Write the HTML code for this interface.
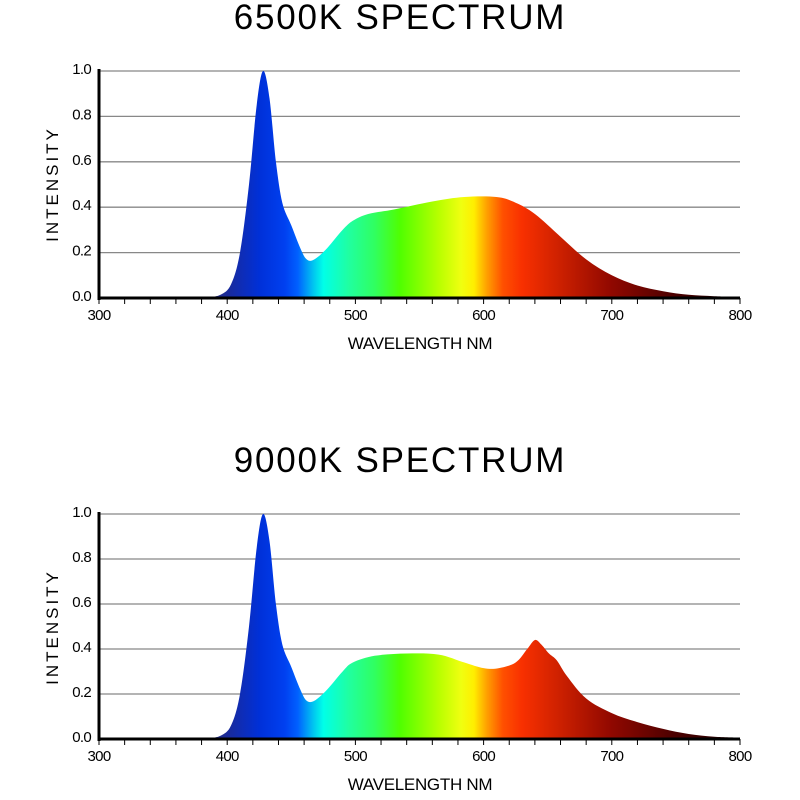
<!DOCTYPE html>
<html><head><meta charset="utf-8"><style>
html,body{margin:0;padding:0;background:#fff;}
svg{display:block;font-family:"Liberation Sans",sans-serif;}
</style></head><body>
<svg id="s" width="800" height="800" viewBox="0 0 800 800" xmlns="http://www.w3.org/2000/svg">
<defs>
<linearGradient id="spec" gradientUnits="userSpaceOnUse" x1="99" y1="0" x2="740" y2="0">
<stop offset="0.15" stop-color="#3a3a70"/>
<stop offset="0.2" stop-color="#1a2a9a"/>
<stop offset="0.25" stop-color="#0030d8"/>
<stop offset="0.29" stop-color="#0040f0"/>
<stop offset="0.31" stop-color="#0060ff"/>
<stop offset="0.335" stop-color="#00c8f0"/>
<stop offset="0.35" stop-color="#00ffe8"/>
<stop offset="0.39" stop-color="#20ffa0"/>
<stop offset="0.43" stop-color="#30ff60"/>
<stop offset="0.47" stop-color="#50ff00"/>
<stop offset="0.53" stop-color="#b8ff00"/>
<stop offset="0.565" stop-color="#f0ff10"/>
<stop offset="0.585" stop-color="#ffee00"/>
<stop offset="0.605" stop-color="#ffa000"/>
<stop offset="0.63" stop-color="#ff5000"/>
<stop offset="0.66" stop-color="#f83000"/>
<stop offset="0.72" stop-color="#cc2000"/>
<stop offset="0.8" stop-color="#900800"/>
<stop offset="0.9" stop-color="#4a0000"/>
<stop offset="1" stop-color="#200000"/>
</linearGradient>
</defs>
<g id="g1"></g>
<g id="g2"></g>
</svg>
<script>
const NS="http://www.w3.org/2000/svg";
function X(w){return 99+(w-300)*641/500;}
function el(p,tag,a,t){const e=document.createElementNS(NS,tag);for(const k in a)e.setAttribute(k,a[k]);if(t!=null)e.textContent=t;p.appendChild(e);return e;}
function smooth(pts){let d="";for(let i=0;i<pts.length-1;i++){const p0=pts[Math.max(0,i-1)],p1=pts[i],p2=pts[i+1],p3=pts[Math.min(pts.length-1,i+2)];
const c1=[p1[0]+(p2[0]-p0[0])/6,p1[1]+(p2[1]-p0[1])/6],c2=[p2[0]-(p3[0]-p1[0])/6,p2[1]-(p3[1]-p1[1])/6];
if(i==0)d+="M"+p1[0]+","+p1[1];d+=" C"+c1[0].toFixed(1)+","+c1[1].toFixed(1)+" "+c2[0].toFixed(1)+","+c2[1].toFixed(1)+" "+p2[0].toFixed(1)+","+p2[1].toFixed(1);}return d;}
const blue=[[370,0],[385,0.004],[395,0.015],[403,0.06],[410,0.2],[417,0.5],[423,0.85],[428,1.0],[433,0.88],[438,0.6],[443,0.42],[450,0.32],[457,0.22],[462,0.17],[468,0.17]];
const c1=blue.concat([[478,0.22],[490,0.3],[498,0.34],[510,0.37],[530,0.39],[560,0.425],[585,0.445],[610,0.445],[625,0.42],[640,0.37],[660,0.27],[680,0.17],[700,0.1],[720,0.055],[740,0.03],[760,0.014],[780,0.008],[800,0.006]]);
const c2=blue.concat([[478,0.22],[490,0.3],[498,0.34],[515,0.37],[540,0.38],[565,0.375],[585,0.34],[600,0.315],[612,0.315],[625,0.34],[634,0.4],[640,0.44],[645,0.42],[651,0.38],[657,0.35],[665,0.28],[680,0.18],[700,0.115],[720,0.075],[740,0.045],[760,0.022],[780,0.01],[800,0.006]]);
function chart(g,top,bot,title,data){
 const H=bot-top;const Y=v=>bot-v*H;
 el(g,"text",{x:400,y:top-42,"text-anchor":"middle","font-size":35,"letter-spacing":"1.8"},title);
 for(let v=0.2;v<1.01;v+=0.2)el(g,"line",{x1:99,x2:740,y1:Y(v),y2:Y(v),stroke:"#888","stroke-width":1.3});
 const pts=data.map(p=>[X(p[0]),Y(p[1])]);
 el(g,"path",{d:smooth(pts)+" L740,"+bot+" L"+X(370)+","+bot+"Z",fill:"url(#spec)"});
 el(g,"line",{x1:99,x2:99,y1:top-2,y2:bot+2,stroke:"#000","stroke-width":3});
 el(g,"line",{x1:98,x2:740,y1:bot,y2:bot,stroke:"#000","stroke-width":3});
 for(let w=300;w<=800;w+=20)el(g,"line",{x1:X(w),x2:X(w),y1:bot,y2:bot+6,stroke:"#000","stroke-width":1});
 for(let w=300;w<=800;w+=100)el(g,"text",{x:X(w),y:bot+22,"text-anchor":"middle","font-size":15,"letter-spacing":"-0.7"},w);
 ["0.0","0.2","0.4","0.6","0.8","1.0"].forEach((t,i)=>el(g,"text",{x:91,y:Y(i*0.2)+3,"text-anchor":"end","font-size":15,"letter-spacing":"-0.7"},t));
 el(g,"text",{x:420,y:bot+51,"text-anchor":"middle","font-size":17,"letter-spacing":"-0.3"},"WAVELENGTH NM");
 el(g,"text",{transform:"translate(58,"+(top+113)+") rotate(-90)","text-anchor":"middle","font-size":17,"letter-spacing":"3"},"INTENSITY");
}
chart(document.getElementById("g1"),71,298,"6500K SPECTRUM",c1);
chart(document.getElementById("g2"),514,739,"9000K SPECTRUM",c2);
</script>
</body></html>
